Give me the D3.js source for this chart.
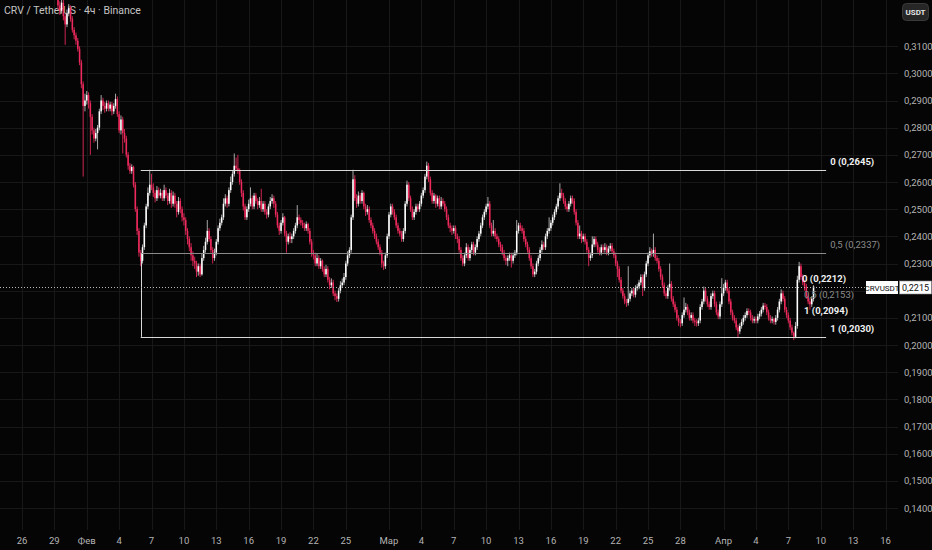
<!DOCTYPE html>
<html><head><meta charset="utf-8">
<script src="https://cdn.jsdelivr.net/npm/d3@7"></script>
<style>body{margin:0;background:#050505;overflow:hidden} svg{display:block}</style>
</head><body><svg id="c" width="932" height="550"></svg>
<script>
// ---- DATA (prices in 1/10000 USDT) ----
const title = "CRV / TetherUS · 4ч · Binance";
const firstCandle = "2026-01-29T00:00:00Z";
const candleHours = 4;
const firstOpen = 3330;
const closes = [
3320,3290,3250,3230,3260,3210, 3180,3220,3240,3200,3160,3140, 3120,3090,3040,2960,2880,2900,
2920,2890,2840,2790,2760,2780, 2800,2860,2900,2880,2870,2890, 2870,2885,2860,2880,2905,2850,
2790,2830,2780,2760,2700,2660, 2640,2655,2590,2500,2420,2340, 2310,2360,2440,2510,2560,2590,
2580,2560,2540,2570,2550,2560, 2540,2570,2550,2530,2560,2520, 2550,2520,2490,2530,2500,2470,
2460,2420,2390,2360,2330,2310, 2300,2270,2290,2260,2320,2350, 2380,2420,2390,2350,2320,2340,
2380,2430,2450,2470,2520,2540, 2520,2570,2600,2630,2660,2650, 2640,2600,2560,2510,2470,2500,
2520,2540,2510,2550,2530,2515, 2530,2500,2520,2490,2480,2510, 2530,2540,2520,2480,2440,2420,
2450,2470,2410,2380,2400,2390, 2400,2420,2440,2470,2460,2450, 2440,2430,2445,2420,2380,2340,
2330,2300,2320,2290,2310,2280, 2260,2280,2240,2220,2230,2190, 2180,2170,2200,2220,2230,2250,
2300,2330,2350,2470,2610,2540, 2520,2550,2530,2560,2510,2490, 2500,2460,2440,2420,2400,2380,
2360,2340,2300,2290,2330,2400, 2480,2510,2490,2470,2440,2420, 2410,2390,2420,2520,2590,2540,
2500,2470,2490,2510,2500,2520, 2550,2570,2620,2660,2610,2560, 2530,2550,2520,2540,2510,2530,
2520,2500,2470,2440,2430,2420, 2430,2400,2390,2350,2320,2300, 2330,2360,2320,2350,2370,2340,
2360,2390,2410,2440,2470,2490, 2510,2520,2440,2410,2420,2400, 2390,2370,2360,2340,2320,2310,
2320,2330,2310,2330,2340,2420, 2440,2430,2420,2390,2370,2350, 2320,2290,2260,2270,2300,2320,
2350,2370,2360,2400,2420,2430, 2450,2470,2490,2510,2540,2560, 2550,2530,2510,2500,2520,2540,
2530,2490,2450,2400,2410,2390, 2400,2380,2350,2320,2330,2370, 2390,2370,2350,2340,2360,2350,
2360,2340,2355,2365,2345,2330, 2300,2280,2240,2200,2180,2160, 2155,2170,2190,2200,2185,2210,
2215,2230,2250,2210,2260,2300, 2330,2345,2335,2350,2320,2310, 2280,2250,2220,2190,2180,2210,
2225,2170,2150,2130,2100,2085, 2080,2110,2130,2140,2120,2100, 2110,2090,2085,2080,2090,2140,
2160,2200,2170,2150,2140,2180, 2190,2150,2120,2105,2150,2190, 2210,2230,2200,2160,2120,2100,
2090,2065,2050,2070,2085,2100, 2110,2125,2120,2100,2090,2095, 2090,2105,2115,2130,2145,2140,
2120,2100,2090,2095,2085,2100, 2130,2160,2190,2170,2130,2110, 2090,2065,2045,2030,2070,2240,
2290,2250,2230,2215,2180,2160, 2150,2170,2215
];
const highs = [
3345,3330,3300,3265,3275,3270, 3220,3235,3255,3250,3210,3170, 3150,3130,3100,3050,2970,2925,
2935,2930,2900,2850,2800,2795, 2810,2870,2920,2910,2895,2900, 2900,2895,2895,2890,2925,2915,
2860,2845,2840,2795,2770,2710, 2670,2665,2660,2600,2510,2430, 2350,2370,2450,2520,2580,2645,
2630,2595,2570,2585,2580,2575, 2570,2590,2580,2560,2575,2570, 2565,2560,2530,2545,2540,2510,
2485,2470,2430,2400,2375,2345, 2325,2310,2300,2300,2335,2365, 2395,2460,2430,2400,2360,2355,
2390,2440,2465,2480,2540,2555, 2550,2580,2620,2640,2705,2690, 2700,2650,2610,2570,2520,2510,
2535,2580,2550,2560,2560,2540, 2545,2575,2530,2530,2500,2520, 2545,2555,2550,2530,2490,2450,
2460,2485,2475,2420,2410,2415, 2410,2430,2450,2515,2480,2470, 2460,2450,2455,2450,2430,2390,
2350,2340,2335,2330,2320,2315, 2290,2295,2290,2250,2245,2240, 2200,2190,2210,2235,2245,2265,
2310,2345,2360,2480,2645,2625, 2555,2565,2560,2570,2565,2520, 2515,2510,2470,2450,2430,2410,
2390,2370,2350,2310,2340,2410, 2490,2520,2520,2500,2480,2450, 2430,2420,2430,2530,2605,2600,
2550,2510,2500,2520,2520,2530, 2560,2580,2630,2675,2670,2620, 2570,2560,2555,2550,2550,2545,
2540,2530,2510,2480,2450,2440, 2440,2440,2410,2400,2360,2330, 2340,2375,2370,2360,2380,2380,
2370,2400,2420,2450,2480,2500, 2520,2545,2530,2450,2460,2430, 2410,2400,2380,2370,2350,2330,
2330,2340,2340,2340,2350,2460, 2450,2450,2440,2430,2400,2380, 2360,2330,2300,2280,2310,2330,
2360,2385,2380,2410,2430,2470, 2460,2480,2500,2520,2550,2595, 2575,2560,2540,2520,2530,2550,
2550,2540,2500,2460,2440,2420, 2410,2410,2390,2360,2340,2400, 2400,2400,2380,2360,2370,2370,
2375,2370,2365,2375,2375,2355, 2340,2310,2290,2250,2210,2190, 2170,2290,2200,2210,2210,2220,
2225,2240,2260,2260,2270,2310, 2340,2360,2355,2410,2360,2330, 2320,2290,2260,2230,2200,2220,
2300,2235,2180,2160,2140,2110, 2095,2120,2175,2155,2150,2130, 2120,2120,2100,2095,2100,2150,
2170,2215,2210,2180,2160,2190, 2200,2200,2160,2130,2160,2246, 2225,2240,2240,2210,2170,2130,
2110,2100,2075,2080,2095,2110, 2120,2135,2135,2130,2110,2105, 2105,2115,2125,2140,2155,2155,
2150,2130,2110,2105,2100,2110, 2140,2170,2205,2200,2180,2140, 2120,2100,2075,2050,2085,2255,
2306,2300,2260,2240,2225,2190, 2170,2180,2220
];
const lows = [
3305,3280,3235,3215,3220,3195, 3105,3170,3210,3190,3150,3125, 3105,3080,3030,2945,2620,2860,
2885,2870,2700,2775,2745,2750, 2720,2790,2850,2865,2855,2860, 2860,2860,2845,2850,2870,2840,
2780,2775,2705,2745,2690,2645, 2630,2630,2580,2490,2405,2325, 2290,2300,2350,2430,2500,2550,
2570,2545,2525,2530,2540,2540, 2530,2530,2540,2515,2520,2505, 2510,2505,2470,2480,2485,2455,
2440,2405,2370,2345,2310,2290, 2280,2250,2255,2250,2255,2310, 2340,2370,2380,2340,2300,2310,
2330,2370,2420,2440,2460,2510, 2505,2510,2560,2590,2620,2640, 2630,2590,2545,2495,2460,2460,
2490,2510,2500,2500,2520,2500, 2505,2490,2490,2480,2465,2470, 2500,2520,2505,2470,2430,2405,
2410,2440,2400,2340,2370,2375, 2375,2390,2410,2430,2445,2440, 2430,2420,2420,2410,2370,2325,
2315,2290,2290,2280,2280,2270, 2250,2250,2230,2205,2210,2180, 2165,2158,2160,2190,2210,2220,
2240,2290,2320,2340,2460,2530, 2505,2510,2520,2520,2500,2475, 2480,2450,2430,2410,2390,2370,
2350,2330,2285,2276,2280,2320, 2390,2470,2480,2460,2430,2410, 2400,2380,2380,2410,2510,2530,
2490,2460,2460,2480,2490,2490, 2510,2540,2560,2610,2600,2550, 2520,2520,2505,2510,2500,2500,
2510,2490,2460,2430,2415,2405, 2410,2390,2375,2340,2310,2290, 2290,2320,2310,2310,2340,2330,
2330,2350,2380,2400,2430,2460, 2480,2500,2430,2400,2400,2390, 2380,2360,2345,2330,2310,2295,
2290,2310,2285,2300,2320,2330, 2410,2420,2410,2380,2360,2340, 2310,2280,2250,2250,2260,2290,
2310,2340,2350,2350,2390,2410, 2420,2440,2460,2480,2500,2530, 2540,2520,2500,2490,2490,2510,
2520,2480,2440,2390,2390,2375, 2380,2370,2340,2290,2310,2320, 2360,2360,2340,2330,2330,2340,
2340,2330,2330,2345,2335,2320, 2290,2250,2230,2190,2170,2150, 2140,2145,2160,2180,2175,2175,
2200,2205,2220,2180,2200,2250, 2290,2320,2325,2325,2310,2300, 2270,2240,2210,2180,2170,2170,
2200,2160,2140,2120,2090,2070, 2065,2070,2100,2120,2110,2090, 2090,2080,2070,2068,2070,2080,
2130,2150,2160,2140,2130,2130, 2170,2140,2110,2095,2095,2140, 2180,2200,2190,2150,2110,2090,
2080,2055,2028,2040,2060,2075, 2090,2100,2110,2090,2080,2080, 2080,2080,2095,2105,2120,2130,
2110,2090,2080,2080,2075,2075, 2090,2120,2150,2160,2120,2100, 2080,2055,2035,2018,2025,2060,
2230,2240,2220,2200,2170,2150, 2130,2140,2160
];
const priceTicks = [0.14,0.15,0.16,0.17,0.18,0.19,0.20,0.21,0.22,0.23,0.24,0.25,0.26,0.27,0.28,0.29,0.30,0.31];
const timeTickDates = ["2026-01-26","2026-01-29","2026-02-01","2026-02-04","2026-02-07","2026-02-10","2026-02-13","2026-02-16","2026-02-19","2026-02-22","2026-02-25","2026-03-01","2026-03-04","2026-03-07","2026-03-10","2026-03-13","2026-03-16","2026-03-19","2026-03-22","2026-03-25","2026-03-28","2026-04-01","2026-04-04","2026-04-07","2026-04-10","2026-04-13","2026-04-16"];
const timeTickLabels = ["26","29","Фев","4","7","10","13","16","19","22","25","Мар","4","7","10","13","16","19","22","25","28","Апр","4","7","10","13","16"];
const bigFibLevels = [0.2645, 0.2337, 0.2030];
const bigFibLabels = ["0 (0,2645)", "0,5 (0,2337)", "1 (0,2030)"];
const bigFibStart = "2026-02-06T00:00:00Z", bigFibEnd = "2026-04-10T12:00:00Z";
const smallFibLevels = [0.2212, 0.2153, 0.2094];
const smallFibLabels = ["0 (0,2212)", "0,5 (0,2153)", "1 (0,2094)"];
const lastPrice = 0.2215;
const symbol = "CRVUSDT";

// ---- RENDER ----
const svg = d3.select("#c");
const W = 932, H = 550, plotR = 898, plotB = 530;
const FONT = "Roboto, 'Liberation Sans', sans-serif";
svg.append("rect").attr("width", W).attr("height", H).attr("fill", "#050505");

const x = d3.scaleUtc().domain([new Date("2026-01-26T00:00:00Z"), new Date("2026-04-16T00:00:00Z")]).range([22, 885.5]);
const y = d3.scaleLinear().domain([0.14, 0.32]).range([508, 19]);
const fmt = v => d3.format(".4f")(v).replace(".", ",");

// grid
const grid = svg.append("g");
grid.selectAll("line.h").data(priceTicks).join("line")
  .attr("x1", 0).attr("x2", plotR).attr("y1", d => Math.round(y(d)) + 0.5).attr("y2", d => Math.round(y(d)) + 0.5)
  .attr("stroke", "#181818").attr("stroke-width", 1);
grid.selectAll("line.v").data(timeTickDates).join("line")
  .attr("x1", d => Math.round(x(new Date(d + "T00:00:00Z"))) + 0.5).attr("x2", d => Math.round(x(new Date(d + "T00:00:00Z"))) + 0.5)
  .attr("y1", 0).attr("y2", plotB).attr("stroke", "#181818").attr("stroke-width", 1);

// title (candles drawn over it, as in the reference)
svg.append("text").attr("x", 4).attr("y", 14).text(title)
  .attr("fill", "#c4c4c4").attr("font-family", FONT).attr("font-size", 10.5);

// candles
const t0 = new Date(firstCandle).getTime();
const candles = closes.map((c, i) => ({
  t: new Date(t0 + i * candleHours * 3600e3),
  o: (i === 0 ? firstOpen : closes[i - 1]) / 10000,
  h: highs[i] / 10000, l: lows[i] / 10000, c: c / 10000
}));
svg.append("clipPath").attr("id", "clip").append("rect").attr("x", 0).attr("y", 0).attr("width", plotR).attr("height", plotB);
const cg = svg.append("g").attr("clip-path", "url(#clip)");
const step = x(new Date(t0 + candleHours * 3600e3)) - x(new Date(t0));
const bw = Math.max(1, step * 0.85);
const UP = "#ffffff", UPW = "#a8a8a8", DN = "#ee2a5c", DNW = "#cc2652";
cg.selectAll("line.w").data(candles).join("line")
  .attr("x1", d => x(d.t)).attr("x2", d => x(d.t))
  .attr("y1", d => y(d.h)).attr("y2", d => y(d.l))
  .attr("stroke", d => d.c >= d.o ? UPW : DNW).attr("stroke-width", 1);
cg.selectAll("rect.b").data(candles).join("rect")
  .attr("x", d => x(d.t) - bw / 2).attr("width", bw)
  .attr("y", d => y(Math.max(d.o, d.c)))
  .attr("height", d => Math.max(1, Math.abs(y(d.o) - y(d.c))))
  .attr("fill", d => d.c >= d.o ? UP : DN);

// big fib box
const bx1 = x(new Date(bigFibStart)), bx2 = x(new Date(bigFibEnd));
const fg = svg.append("g");
fg.selectAll("line.f").data(bigFibLevels).join("line")
  .attr("x1", bx1).attr("x2", bx2).attr("y1", d => Math.round(y(d)) + 0.5).attr("y2", d => Math.round(y(d)) + 0.5)
  .attr("stroke", (d, i) => i === 1 ? "#8a8a8a" : "#d8d8d8").attr("stroke-width", 1);
fg.append("line").attr("x1", Math.round(bx1) + 0.5).attr("x2", Math.round(bx1) + 0.5)
  .attr("y1", y(bigFibLevels[1])).attr("y2", y(bigFibLevels[2])).attr("stroke", "#d8d8d8");
fg.selectAll("text.f").data(bigFibLevels).join("text")
  .attr("x", bx2 + 4).attr("y", d => y(d) - 5).text((d, i) => bigFibLabels[i])
  .attr("fill", (d, i) => i === 1 ? "#8c8c8c" : "#f0f0f0").attr("font-family", FONT)
  .attr("font-size", 9.5).attr("font-weight", (d, i) => i === 1 ? "normal" : "bold");

// small fib labels
const sx = [802, 804, 804];
fg.selectAll("text.s").data(smallFibLevels).join("text")
  .attr("x", (d, i) => sx[i]).attr("y", d => y(d) - 5).text((d, i) => smallFibLabels[i])
  .attr("fill", (d, i) => i === 1 ? "#8c8c8c" : "#f0f0f0").attr("font-family", FONT)
  .attr("font-size", 9.5).attr("font-weight", (d, i) => i === 1 ? "normal" : "bold");

// last price line
const ly = Math.round(y(lastPrice)) + 0.5;
svg.append("line").attr("x1", 0).attr("x2", 866).attr("y1", ly).attr("y2", ly)
  .attr("stroke", "#b8b8b8").attr("stroke-width", 1).attr("stroke-dasharray", "1,2");

// right axis labels (the one hidden under the last-price tag is skipped)
svg.append("g").selectAll("text").data(priceTicks.filter(v => Math.abs(y(v) - y(lastPrice)) > 9)).join("text")
  .attr("x", 904).attr("y", d => y(d) + 3.5).text(fmt)
  .attr("fill", "#b4b4b4").attr("font-family", FONT).attr("font-size", 9.5);

// bottom axis labels
svg.append("g").selectAll("text").data(timeTickDates).join("text")
  .attr("x", d => x(new Date(d + "T00:00:00Z"))).attr("y", 544).attr("text-anchor", "middle")
  .text((d, i) => timeTickLabels[i])
  .attr("fill", "#b4b4b4").attr("font-family", FONT).attr("font-size", 9.5);

// price labels
svg.append("rect").attr("x", 866).attr("y", ly - 6.5).attr("width", 32).attr("height", 13).attr("fill", "#ffffff");
svg.append("text").attr("x", 882).attr("y", ly + 3).attr("text-anchor", "middle").text(symbol)
  .attr("fill", "#111").attr("font-family", FONT).attr("font-size", 8);
svg.append("rect").attr("x", 899.5).attr("y", ly - 6.5).attr("width", 32).attr("height", 13)
  .attr("fill", "#ffffff").attr("stroke", "#888").attr("stroke-width", 0.6);
svg.append("text").attr("x", 915.5).attr("y", ly + 3.3).attr("text-anchor", "middle").text(fmt(lastPrice))
  .attr("fill", "#111").attr("font-family", FONT).attr("font-size", 9);

// currency button
svg.append("rect").attr("x", 902.5).attr("y", 3.5).attr("width", 26).attr("height", 17).attr("rx", 4)
  .attr("fill", "#262626").attr("stroke", "#3a3a3a");
svg.append("text").attr("x", 915.5).attr("y", 15).attr("text-anchor", "middle").text("USDT")
  .attr("fill", "#e6e6e6").attr("font-family", FONT).attr("font-size", 8).attr("font-weight", "bold");
</script>
</body></html>
